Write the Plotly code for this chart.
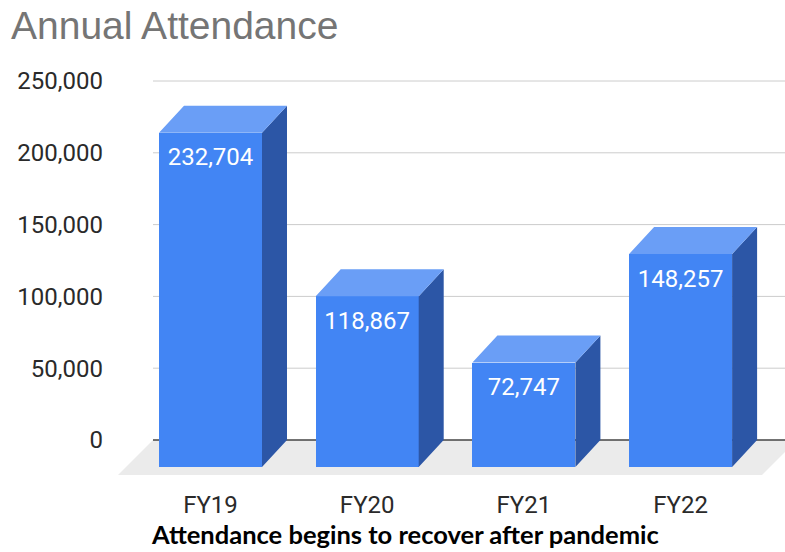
import plotly.graph_objects as go

# ---------------- data ----------------
categories = ["FY19", "FY20", "FY21", "FY22"]
attendance = [232704, 118867, 72747, 148257]
value_labels = ["232,704", "118,867", "72,747", "148,257"]
tick_values = [0, 50000, 100000, 150000, 200000, 250000]
tick_labels = ["0", "50,000", "100,000", "150,000", "200,000", "250,000"]

# ---------------- layout geometry (pixels) ----------------
W, H = 785, 552
L, R, T, B = 110, 0, 70, 74
X0_PX = 210.5          # pixel x of first category
X_UNIT = 156.7         # pixels per category step
ZERO_PX = 440          # pixel y of value 0
Y_SCALE = 359 / 250000  # pixels per unit value

def xu(px):
    return px / X_UNIT

def yu(px):
    return px / Y_SCALE

x_range = [(L - X0_PX) / X_UNIT, (W - R - X0_PX) / X_UNIT]
y_range = [-(H - B - ZERO_PX) / Y_SCALE, (ZERO_PX - T) / Y_SCALE]

half_w = xu(51.5)
ddx = xu(25)
ddy = yu(27)

FRONT = "#4285f4"
SIDE = "#2c56a6"
TOP = "#6a9ef6"

idx = list(range(len(categories)))

fig = go.Figure()

# side and top faces
sx, sy = [], []
tx, ty = [], []
for i, v in zip(idx, attendance):
    sx += [i + half_w, i + half_w + ddx, i + half_w + ddx, i + half_w, i + half_w, None]
    sy += [-ddy, 0, v, v - ddy, -ddy, None]
    tx += [i - half_w, i + half_w, i + half_w + ddx, i - half_w + ddx, i - half_w, None]
    ty += [v - ddy, v - ddy, v, v, v - ddy, None]

fig.add_trace(go.Scatter(x=sx, y=sy, mode="lines", fill="toself", fillcolor=SIDE,
                         line=dict(width=0, color=SIDE), hoverinfo="skip", showlegend=False))
fig.add_trace(go.Scatter(x=tx, y=ty, mode="lines", fill="toself", fillcolor=TOP,
                         line=dict(width=0, color=TOP), hoverinfo="skip", showlegend=False))

# front faces
fig.add_trace(go.Bar(x=idx, y=attendance, base=[-ddy] * len(idx), width=2 * half_w,
                     marker=dict(color=FRONT, line=dict(width=0)), showlegend=False,
                     hovertext=categories))

# value labels
fig.add_trace(go.Scatter(x=idx, y=[v - ddy - yu(26.5) for v in attendance], mode="text",
                         text=value_labels, textposition="middle center",
                         textfont=dict(family="Roboto", size=24, color="white"),
                         hoverinfo="skip", showlegend=False))

# floor + gridlines as background shapes
fl_l, fl_r = xu(153 - X0_PX), xu(797 - X0_PX)
fl_d = xu(35)
fl_h = yu(35)
shapes = [dict(type="path", xref="x", yref="y", layer="below",
               path=f"M {fl_l},0 L {fl_r},0 L {fl_r - fl_d},{-fl_h} L {fl_l - fl_d},{-fl_h} Z",
               fillcolor="#ebebeb", line=dict(width=0))]
for tv in tick_values:
    shapes.append(dict(type="line", xref="x", yref="y", layer="below",
                       x0=fl_l, x1=x_range[1], y0=tv, y1=tv,
                       line=dict(color="#444444" if tv == 0 else "#cccccc", width=1.3 if tv == 0 else 1)))

fig.update_layout(
    width=W, height=H,
    margin=dict(l=L, r=R, t=T, b=B, pad=0),
    paper_bgcolor="white", plot_bgcolor="white",
    bargap=0,
    shapes=shapes,
    title=dict(text="Annual Attendance", x=11 / W, xanchor="left", xref="container",
               y=1 - 25 / H, yanchor="middle", yref="container",
               font=dict(family="Liberation Sans", size=39, color="#757575")),
    xaxis=dict(range=x_range, tickvals=idx, ticktext=categories, showgrid=False,
               zeroline=False, showline=False, ticks="", fixedrange=True,
               ticklabelstandoff=10,
               tickfont=dict(family="Roboto", size=24, color="#2a2a2a")),
    yaxis=dict(range=y_range, tickvals=tick_values, ticktext=tick_labels, showgrid=False,
               zeroline=False, showline=False, ticks="", fixedrange=True,
               ticklabelstandoff=6,
               tickfont=dict(family="Roboto", size=24, color="#2a2a2a")),
    annotations=[dict(text="<b>Attendance begins to recover after pandemic</b>",
                      xref="paper", yref="paper", x=(405 - L) / (W - L - R), xanchor="center",
                      y=-(534 - (H - B)) / (H - T - B), yanchor="middle", showarrow=False,
                      font=dict(family="Lato", size=25.5, color="black"))],
)

fig.write_html("out.html", config={"displayModeBar": False},
               post_script="document.body.style.margin='0px';")
